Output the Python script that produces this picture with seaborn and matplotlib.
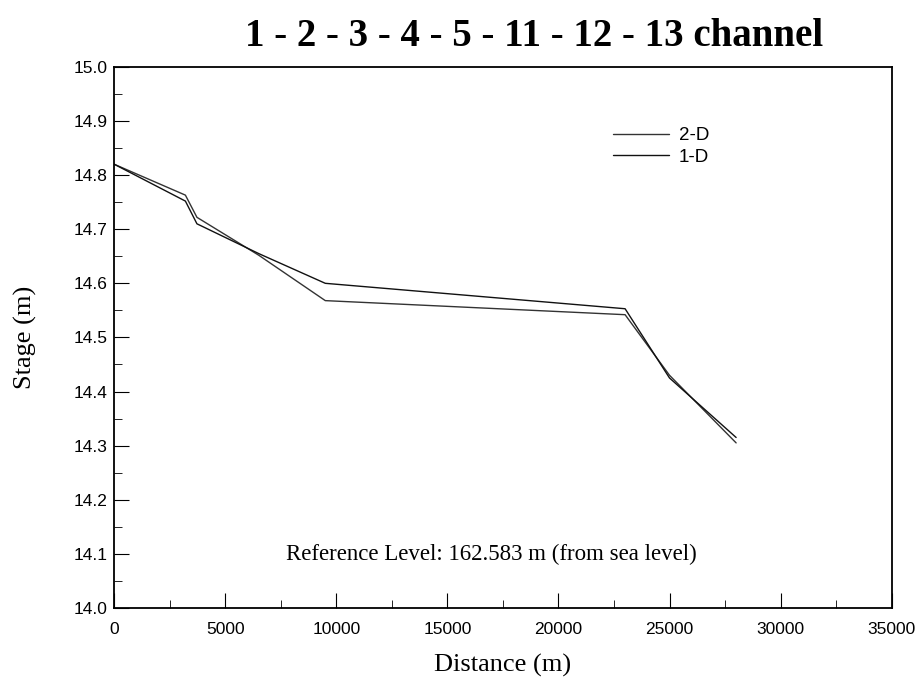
import matplotlib
matplotlib.use("Agg")
import matplotlib.pyplot as plt
from matplotlib.ticker import MultipleLocator
import pandas as pd
import seaborn as sns

# values
dist_2d = [0, 3200, 3720, 6500, 9500, 23000, 25000, 28000]
stage_2d = [14.82, 14.763, 14.722, 14.652, 14.568, 14.542, 14.43, 14.305]
dist_1d = [0, 3200, 3720, 6500, 9500, 23000, 25000, 28000]
stage_1d = [14.82, 14.752, 14.71, 14.655, 14.60, 14.553, 14.425, 14.315]

df = pd.concat([
    pd.DataFrame({"Distance": dist_2d, "Stage": stage_2d, "model": "2-D"}),
    pd.DataFrame({"Distance": dist_1d, "Stage": stage_1d, "model": "1-D"}),
])

sns.set_style("ticks")
plt.rcParams["font.family"] = ["Liberation Sans", "DejaVu Sans"]
plt.rcParams["text.color"] = "black"
plt.rcParams["axes.labelcolor"] = "black"
plt.rcParams["xtick.color"] = "black"
plt.rcParams["ytick.color"] = "black"

fig = plt.figure(figsize=(9.22, 6.9), dpi=100)
ax = fig.add_axes([0.124, 0.119, 0.843, 0.784])

sns.lineplot(data=df, x="Distance", y="Stage", hue="model", sort=False,
             palette={"2-D": "#333333", "1-D": "#111111"}, linewidth=1.0, ax=ax)

ax.set_xlim(0, 35000)
ax.set_ylim(14.0, 15.0)
ax.xaxis.set_major_locator(MultipleLocator(5000))
ax.xaxis.set_minor_locator(MultipleLocator(2500))
ax.yaxis.set_major_locator(MultipleLocator(0.1))
ax.yaxis.set_minor_locator(MultipleLocator(0.05))
ax.tick_params(which="both", direction="in", labelsize=12.5)
ax.tick_params(which="major", length=11)
ax.tick_params(which="minor", length=6)
ax.tick_params(axis="x", pad=10)
ax.tick_params(axis="y", pad=5)
for s in ax.spines.values():
    s.set_linewidth(1.3)
    s.set_color("black")

ax.set_xlabel("Distance (m)", family="Liberation Serif", fontsize=19, labelpad=12)
ax.set_ylabel("Stage (m)", family="Liberation Serif", fontsize=19, labelpad=26)
fig.text(0.579, 0.947, "1 - 2 - 3 - 4 - 5 - 11 - 12 - 13 channel", family="Liberation Serif",
         fontweight="bold", fontsize=28, ha="center", va="center")

ax.text(17000, 14.098, "Reference Level: 162.583 m (from sea level)",
        family="Liberation Serif", fontsize=16.5, ha="center", va="center")

leg = ax.legend(loc="upper left", bbox_to_anchor=(0.62, 0.92), frameon=False,
                fontsize=13.5, handlelength=3.0, handletextpad=0.5, labelspacing=0.25)

fig.savefig("out.png", dpi=100)
